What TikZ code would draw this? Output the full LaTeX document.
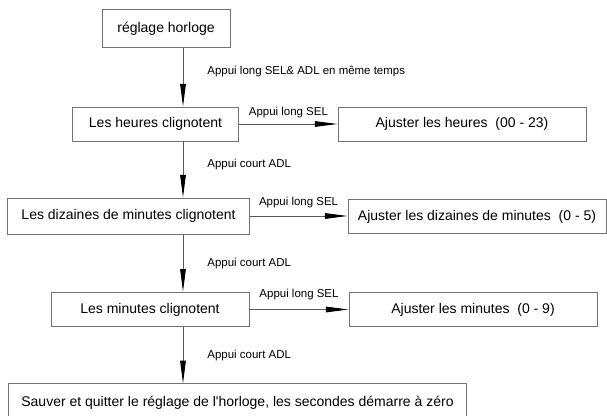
\documentclass[tikz,border=0pt]{standalone}
\usepackage{fontspec}
\setmainfont{Liberation Sans}
\usepackage{tikz}
\usetikzlibrary{arrows.meta,positioning,calc}

\begin{document}
\begin{tikzpicture}[
x=0.75pt, y=-0.75pt,
>={Triangle[length=17pt,width=4.2pt,color=black]},
box-node/.style = {rectangle,draw=black!55,line width=0.7pt,inner sep=2pt,font=\fontsize{10.5}{12}\selectfont},
label-node/.style = {inner sep=1pt,font=\fontsize{8.6}{10}\selectfont},
flow/.style = {draw=black!65,line width=0.7pt,->}
]
\useasboundingbox (0,0) rectangle (607,416);

\coordinate (spine) at (183,0);

\node [box-node, minimum width=96pt, minimum height=29pt] (reglage) at (166,28.5) {réglage horloge};
\node [box-node, minimum width=125pt, minimum height=25.5pt] (heures) at (155.5,124) {Les heures clignotent};
\node [box-node, minimum width=186pt, minimum height=25.5pt] (ajH) at (462,124) {Ajuster les heures\ \ (00 - 23)};
\node [box-node, minimum width=181pt, minimum height=27pt] (dizaines) at (128.5,216) {Les dizaines de minutes clignotent};
\node [box-node, minimum width=193.5pt, minimum height=26pt] (ajD) at (477,216.5) {Ajuster les dizaines de minutes\ \ (0 - 5)};
\node [box-node, minimum width=148.5pt, minimum height=26pt] (minutes) at (150,309.5) {Les minutes clignotent};
\node [box-node, minimum width=186pt, minimum height=26pt] (ajM) at (473,309.5) {Ajuster les minutes\ \ (0 - 9)};
\node [box-node, minimum width=344pt, minimum height=28pt] (sauver) at (237.5,402.5) {Sauver et quitter le réglage de l\textquotesingle horloge, les secondes démarre à zéro};

% vertical arrows
\draw[flow] (reglage.south -| spine) -- node[label-node, pos=0.4, right=17pt]{Appui long SEL\& ADL en même temps} (heures.north -| spine);
\draw[flow] (heures.south -| spine) -- node[label-node, pos=0.42, right=17pt]{Appui court ADL} (dizaines.north -| spine);
\draw[flow] (dizaines.south -| spine) -- node[label-node, midway, right=17pt]{Appui court ADL} (minutes.north -| spine);
\draw[flow] (minutes.south -| spine) -- node[label-node, midway, right=17pt]{Appui court ADL} (sauver.north -| spine);

% horizontal arrows
\draw[flow] (heures.east) -- node[label-node, midway, above=3pt]{Appui long SEL} (heures.east -| ajH.west);
\draw[flow] (dizaines.east) -- node[label-node, midway, above=5pt]{Appui long SEL} (dizaines.east -| ajD.west);
\draw[flow] (minutes.east) -- node[label-node, midway, above=6pt]{Appui long SEL} (minutes.east -| ajM.west);

\end{tikzpicture}
\end{document}
